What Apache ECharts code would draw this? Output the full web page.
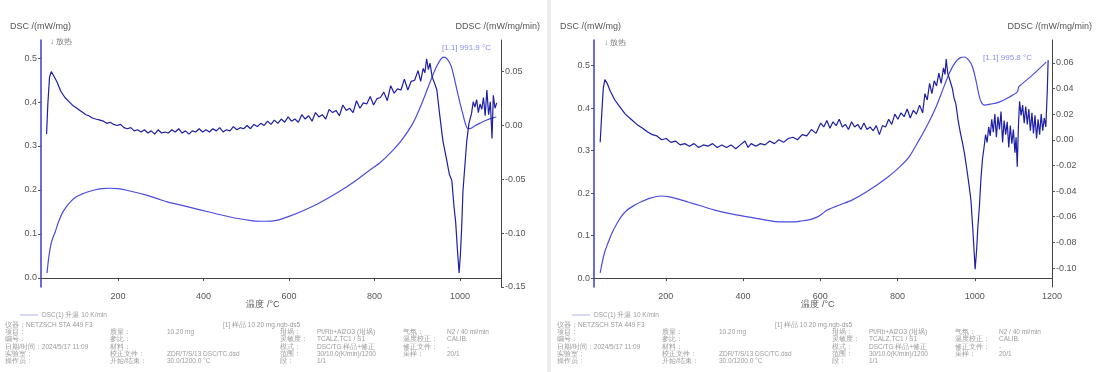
<!DOCTYPE html>
<html>
<head>
<meta charset="utf-8">
<title>DSC</title>
<script src="https://cdn.jsdelivr.net/npm/echarts@6/dist/echarts.min.js"></script>
<style>
  html, body { margin: 0; padding: 0; background: #fff; }
  #chart { width: 1097px; height: 372px; }
</style>
</head>
<body>
<div id="chart"></div>
<script>
    // 左图 (样品 1)
    var dsc1 = [[34,0.011],[38,0.045],[43,0.075],[48,0.092],[53,0.104],[60,0.125],[70,0.148],[80,0.163],[88,0.172],[100,0.183],[114,0.190],[127,0.195],[145,0.200],[163,0.203],[181,0.204],[200,0.203],[218,0.200],[235,0.196],[260,0.190],[290,0.181],[315,0.173],[350,0.165],[392,0.155],[430,0.146],[470,0.137],[516,0.130],[545,0.129],[571,0.131],[600,0.140],[633,0.153],[670,0.170],[712,0.193],[750,0.217],[790,0.246],[813,0.262],[843,0.290],[865,0.315],[890,0.352],[910,0.395],[930,0.445],[945,0.480],[955,0.497],[962,0.502],[970,0.498],[980,0.480],[993,0.427],[1000,0.398],[1007,0.372],[1013,0.350],[1019,0.339],[1025,0.340],[1035,0.346],[1047,0.352],[1060,0.358],[1077,0.364],[1085,0.366]];
    var ddsc1 = [[33,-0.008],[36,0.020],[40,0.045],[44,0.050],[50,0.046],[58,0.040],[66,0.032],[76,0.026],[86,0.022],[96,0.018],[104,0.016],[111,0.014],[118,0.012],[125,0.010],[132,0.009],[140,0.007],[148,0.006],[158,0.005],[166,0.004],[174,0.002],[182,0.003],[190,0.001],[198,0.000],[206,0.001],[214,-0.002],[222,-0.003],[230,-0.002],[238,-0.005],[246,-0.004],[254,-0.006],[262,-0.004],[270,-0.007],[278,-0.005],[286,-0.008],[294,-0.004],[302,-0.007],[310,-0.006],[318,-0.007],[326,-0.004],[334,-0.006],[342,-0.003],[350,-0.007],[358,-0.005],[366,-0.008],[374,-0.005],[382,-0.006],[390,-0.003],[398,-0.006],[406,-0.004],[414,-0.006],[422,-0.003],[430,-0.005],[438,-0.002],[446,-0.006],[454,-0.004],[462,-0.005],[470,-0.001],[478,-0.004],[486,-0.002],[494,-0.003],[502,0.000],[510,-0.003],[518,0.001],[526,-0.001],[534,0.002],[542,0.000],[550,0.004],[558,0.001],[566,0.005],[574,0.002],[582,0.006],[590,0.003],[598,0.008],[606,0.004],[614,0.006],[622,0.003],[630,0.010],[638,0.006],[646,0.009],[654,0.004],[662,0.012],[670,0.008],[678,0.010],[686,0.006],[694,0.015],[702,0.012],[710,0.014],[718,0.009],[726,0.019],[734,0.014],[742,0.016],[750,0.012],[758,0.023],[766,0.016],[774,0.021],[782,0.020],[790,0.027],[798,0.019],[806,0.025],[814,0.026],[822,0.031],[830,0.023],[838,0.037],[846,0.030],[854,0.034],[862,0.033],[870,0.043],[878,0.033],[886,0.041],[894,0.042],[902,0.051],[908,0.041],[914,0.053],[918,0.049],[922,0.062],[926,0.052],[930,0.058],[935,0.045],[940,0.040],[946,0.033],[952,0.012],[960,-0.014],[968,-0.030],[975,-0.045],[981,-0.051],[986,-0.075],[990,-0.090],[994,-0.115],[998,-0.137],[1001,-0.120],[1004,-0.095],[1007,-0.061],[1011,-0.040],[1016,-0.014],[1021,0.002],[1027,0.011],[1031,0.022],[1035,0.017],[1039,0.024],[1043,0.012],[1047,0.020],[1051,0.015],[1055,0.026],[1059,0.009],[1063,0.033],[1067,0.010],[1071,0.022],[1075,-0.012],[1078,0.028],[1082,0.016],[1086,0.021]];

    // 右图 (样品 2)
    var dsc2 = [[30,0.012],[36,0.040],[42,0.062],[50,0.082],[60,0.105],[72,0.126],[84,0.144],[100,0.160],[118,0.171],[135,0.179],[160,0.188],[187,0.193],[210,0.191],[235,0.185],[257,0.179],[290,0.170],[326,0.160],[370,0.151],[412,0.144],[455,0.137],[497,0.132],[530,0.132],[549,0.134],[570,0.137],[585,0.141],[600,0.148],[618,0.160],[650,0.172],[683,0.184],[720,0.203],[771,0.235],[805,0.261],[830,0.285],[856,0.325],[880,0.365],[900,0.403],[918,0.445],[934,0.482],[950,0.508],[962,0.518],[973,0.520],[985,0.512],[994,0.497],[1003,0.465],[1012,0.426],[1018,0.412],[1024,0.407],[1040,0.409],[1063,0.414],[1090,0.426],[1110,0.438],[1114,0.450],[1120,0.455],[1150,0.478],[1185,0.508]];
    var ddsc2 = [[30,-0.002],[34,0.020],[38,0.040],[42,0.047],[48,0.044],[56,0.038],[68,0.031],[80,0.026],[95,0.020],[110,0.016],[125,0.012],[140,0.009],[153,0.006],[165,0.004],[177,0.003],[189,0.000],[201,0.001],[213,-0.002],[225,-0.001],[237,-0.004],[249,-0.003],[261,-0.005],[273,-0.003],[285,-0.006],[297,-0.004],[309,-0.005],[321,-0.003],[333,-0.006],[345,-0.004],[357,-0.006],[369,-0.004],[381,-0.007],[393,-0.004],[405,-0.001],[413,-0.006],[421,-0.003],[433,-0.005],[445,-0.003],[457,-0.004],[469,-0.001],[481,-0.003],[493,0.000],[505,-0.002],[517,0.001],[529,0.002],[541,0.000],[553,0.004],[565,0.003],[577,0.008],[589,0.005],[601,0.013],[609,0.010],[617,0.015],[625,0.009],[633,0.014],[641,0.011],[649,0.016],[657,0.010],[665,0.012],[673,0.008],[681,0.014],[689,0.010],[697,0.012],[705,0.008],[713,0.013],[721,0.008],[729,0.010],[737,0.007],[745,0.011],[753,0.004],[761,0.011],[769,0.010],[777,0.016],[785,0.012],[793,0.020],[801,0.016],[809,0.021],[817,0.018],[825,0.024],[833,0.017],[841,0.023],[849,0.020],[857,0.027],[865,0.021],[871,0.036],[877,0.031],[883,0.044],[889,0.036],[895,0.046],[901,0.042],[907,0.052],[913,0.044],[919,0.056],[923,0.051],[926,0.063],[930,0.052],[936,0.046],[942,0.040],[946,0.033],[951,0.028],[957,0.015],[963,0.005],[968,-0.002],[973,-0.010],[979,-0.022],[985,-0.035],[990,-0.047],[995,-0.070],[1001,-0.101],[1005,-0.085],[1008,-0.068],[1012,-0.052],[1016,-0.030],[1020,-0.015],[1024,-0.006],[1028,0.004],[1032,-0.002],[1036,0.010],[1040,0.003],[1044,0.016],[1048,0.006],[1052,0.020],[1056,0.002],[1060,0.018],[1064,0.008],[1068,0.022],[1072,-0.002],[1076,0.015],[1080,0.004],[1084,0.014],[1088,-0.006],[1092,0.011],[1096,-0.003],[1100,0.008],[1104,-0.010],[1107,0.002],[1110,-0.021],[1113,0.010],[1116,0.030],[1120,0.019],[1124,0.027],[1128,0.013],[1132,0.026],[1136,0.012],[1140,0.024],[1144,0.007],[1148,0.021],[1152,0.005],[1156,0.019],[1160,0.001],[1164,0.016],[1168,0.004],[1172,0.020],[1176,0.007],[1180,0.017],[1184,0.010],[1188,0.040],[1190,0.062]];

    // 刻度
    var tempTicks1 = [200, 400, 600, 800, 1000];
    var tempTicks2 = [200, 400, 600, 800, 1000, 1200];
    var dscTicks = [0.0, 0.1, 0.2, 0.3, 0.4, 0.5];
    var ddscTicks1 = [-0.15, -0.10, -0.05, 0.00, 0.05];
    var ddscTicks2 = [-0.10, -0.08, -0.06, -0.04, -0.02, 0.00, 0.02, 0.04, 0.06];
    var peakLabels = ['[1.1] 991.9 °C', '[1.1] 995.8 °C'];

    var font = '"Liberation Sans", Arial, sans-serif';
    var labelColor = '#555';
    var darkBlue = '#1e1ea6';
    var lightBlue = '#4b4be2';

    function xAxis(idx, min, max, ticks) {
        return {
            type: 'value', gridIndex: idx, min: min, max: max,
            axisLine: {lineStyle: {color: '#444', width: 1}},
            axisTick: {show: true, length: 3, customValues: ticks, lineStyle: {color: '#444'}},
            axisLabel: {
                customValues: ticks, color: labelColor, fontSize: 9, fontFamily: font, margin: 5,
                formatter: function (v) { return String(v); }
            },
            splitLine: {show: false}
        };
    }

    function yAxis(idx, pos, min, max, ticks, digits, color) {
        return {
            type: 'value', gridIndex: idx, position: pos, min: min, max: max,
            axisLine: {show: true, lineStyle: {color: color, width: pos === 'left' ? 1.5 : 1}},
            axisTick: {show: true, length: 3, customValues: ticks, lineStyle: {color: '#555'}},
            axisLabel: {
                customValues: ticks, color: labelColor, fontSize: 9, fontFamily: font, margin: 4,
                formatter: function (v) { return v.toFixed(digits); }
            },
            splitLine: {show: false}
        };
    }

    function txt(x, y, s, opt) {
        opt = opt || {};
        return {
            type: 'text', x: x, y: y, silent: true,
            style: {
                text: s, fill: opt.color || '#666', fontSize: opt.size || 9, fontFamily: font,
                align: opt.align || 'left', verticalAlign: 'middle'
            }
        };
    }

    function footer(ox) {
        var c = '#9a9a9a', s = 6.5;
        var rows = [
            [[5, '仪器：NETZSCH STA 449 F3'], [223, '[1] 样品 10.20 mg.ngb-ds5']],
            [[5, '项目：'], [110, '质量：'], [167, '10.20 mg'], [280, '坩埚：'], [317, 'Pt/Rh+Al2O3 (坩埚)'], [403, '气氛：'], [447, 'N2 / 40 ml/min']],
            [[5, '编号：'], [110, '参比：'], [280, '灵敏度：'], [317, 'TCALZ.TC1 / S1'], [403, '温度校正：'], [447, 'CALIB.']],
            [[5, '日期/时间：2024/5/17 11:09'], [110, '材料：'], [280, '模式：'], [317, 'DSC/TG 样品+修正'], [403, '修正文件：'], [447, '-']],
            [[5, '实验室：'], [110, '校正文件：'], [167, 'ZDR/T/S/13 DSC/TC.dsd'], [280, '范围：'], [317, '30/10.0(K/min)/1200'], [403, '采样：'], [447, '20/1']],
            [[5, '操作员：'], [110, '开始/结束：'], [167, '30.0/1200.0 °C'], [280, '段：'], [317, '1/1']]
        ];
        var out = [];
        out.push({type: 'line', silent: true, shape: {x1: ox + 20, y1: 315, x2: ox + 38, y2: 315}, style: {stroke: '#b0b0ee', lineWidth: 1}});
        out.push(txt(ox + 42, 315, 'DSC(1) 升温 10 K/min', {color: c, size: s}));
        rows.forEach(function (r, i) {
            r.forEach(function (cell) {
                out.push(txt(ox + cell[0], 325 + i * 7.3, cell[1], {color: c, size: s}));
            });
        });
        return out;
    }

    var chart = echarts.init(document.getElementById('chart'));

    var graphics = [
        {type: 'rect', silent: true, z: -10, shape: {x: 547, y: 0, width: 4, height: 372}, style: {fill: '#ececec'}},
        txt(10, 27, 'DSC /(mW/mg)', {color: '#555'}),
        txt(540, 27, 'DDSC /(mW/mg/min)', {color: '#555', align: 'right'}),
        txt(50, 42, '↓ 放热', {color: '#777', size: 8}),
        txt(442, 48, peakLabels[0], {color: '#8c8cf0', size: 8}),
        txt(263, 305, '温度 /°C', {color: '#555', align: 'center'}),
        txt(560, 27, 'DSC /(mW/mg)', {color: '#555'}),
        txt(1092, 27, 'DDSC /(mW/mg/min)', {color: '#555', align: 'right'}),
        txt(604, 43, '↓ 放热', {color: '#777', size: 8}),
        txt(983, 58, peakLabels[1], {color: '#8c8cf0', size: 8}),
        txt(818, 305, '温度 /°C', {color: '#555', align: 'center'})
    ].concat(footer(0), footer(552));

    chart.setOption({
        backgroundColor: '#ffffff',
        animation: false,
        grid: [
            {left: 41, top: 40, width: 460, height: 247},
            {left: 594, top: 40, width: 458, height: 247}
        ],
        xAxis: [
            xAxis(0, 20, 1096, tempTicks1),
            xAxis(1, 14, 1200, tempTicks2)
        ],
        yAxis: [
            yAxis(0, 'left', -0.0205, 0.541, dscTicks, 1, '#3a3ad8'),
            yAxis(0, 'right', -0.15, 0.0794, ddscTicks1, 2, '#444'),
            yAxis(1, 'left', -0.021, 0.56, dscTicks, 1, '#3a3ad8'),
            yAxis(1, 'right', -0.1148, 0.0778, ddscTicks2, 2, '#444')
        ],
        series: [
            {name: 'DSC 1', type: 'line', xAxisIndex: 0, yAxisIndex: 0, data: dsc1, showSymbol: false, smooth: 0.3, lineStyle: {color: lightBlue, width: 1.2}},
            {name: 'DDSC 1', type: 'line', xAxisIndex: 0, yAxisIndex: 1, data: ddsc1, showSymbol: false, lineStyle: {color: darkBlue, width: 1.2}},
            {name: 'DSC 2', type: 'line', xAxisIndex: 1, yAxisIndex: 2, data: dsc2, showSymbol: false, smooth: 0.3, lineStyle: {color: lightBlue, width: 1.2}},
            {name: 'DDSC 2', type: 'line', xAxisIndex: 1, yAxisIndex: 3, data: ddsc2, showSymbol: false, lineStyle: {color: darkBlue, width: 1.2}}
        ],
        graphic: graphics
    });
</script>
</body>
</html>
